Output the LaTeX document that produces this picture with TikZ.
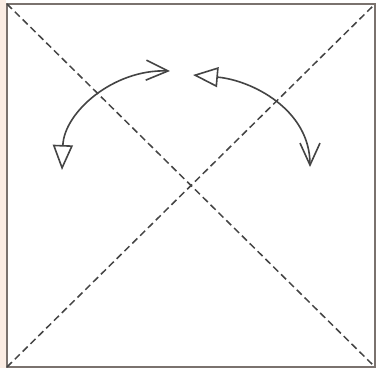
\documentclass[tikz,border=0pt]{standalone}
\usepackage{xcolor}
\usepackage{tikz}
\usetikzlibrary{arrows.meta}
\definecolor{edgegray}{HTML}{7A726E}
\definecolor{foldgray}{HTML}{444444}
\definecolor{peach}{HTML}{FBEDE4}

\begin{document}
\begin{tikzpicture}[
  x=1pt,y=1pt,
  paper/.style={draw=edgegray,line width=2pt},
  crease/.style={draw=foldgray,line width=1.5pt,dash pattern=on 7pt off 4pt},
  foldarr/.style={draw=foldgray,line width=1.6pt,
    {Straight Barb[length=22pt,width=20pt,line width=1.6pt]}-{Triangle[open,length=25pt,width=20pt,line width=1.6pt]}}
]
\useasboundingbox (0,0) rectangle (376,368);
\fill[white] (0,0) rectangle (376,368);
\fill[peach] (0,0) rectangle (6,368);
% corners of the sheet
\coordinate (sw) at (7,1);
\coordinate (se) at (375,1);
\coordinate (ne) at (375,364);
\coordinate (nw) at (7,364);
\draw[paper,fill=white] (sw) rectangle (ne);
\draw[crease] (nw) -- (se);
\draw[crease] (sw) -- (ne);
% fold arrows
\coordinate (lefttop) at (170,297);
\coordinate (leftend) at (62,198);
\coordinate (righttop) at (193,293);
\coordinate (rightend) at (310,201);
\draw[foldarr] (lefttop) to[out=178,in=88] (leftend);
\draw[foldarr,
  {Triangle[open,length=25pt,width=20pt,line width=1.6pt]}-{Straight Barb[length=22pt,width=20pt,line width=1.6pt]}]
  (righttop) to[out=-5,in=90] (rightend);
\end{tikzpicture}
\end{document}
